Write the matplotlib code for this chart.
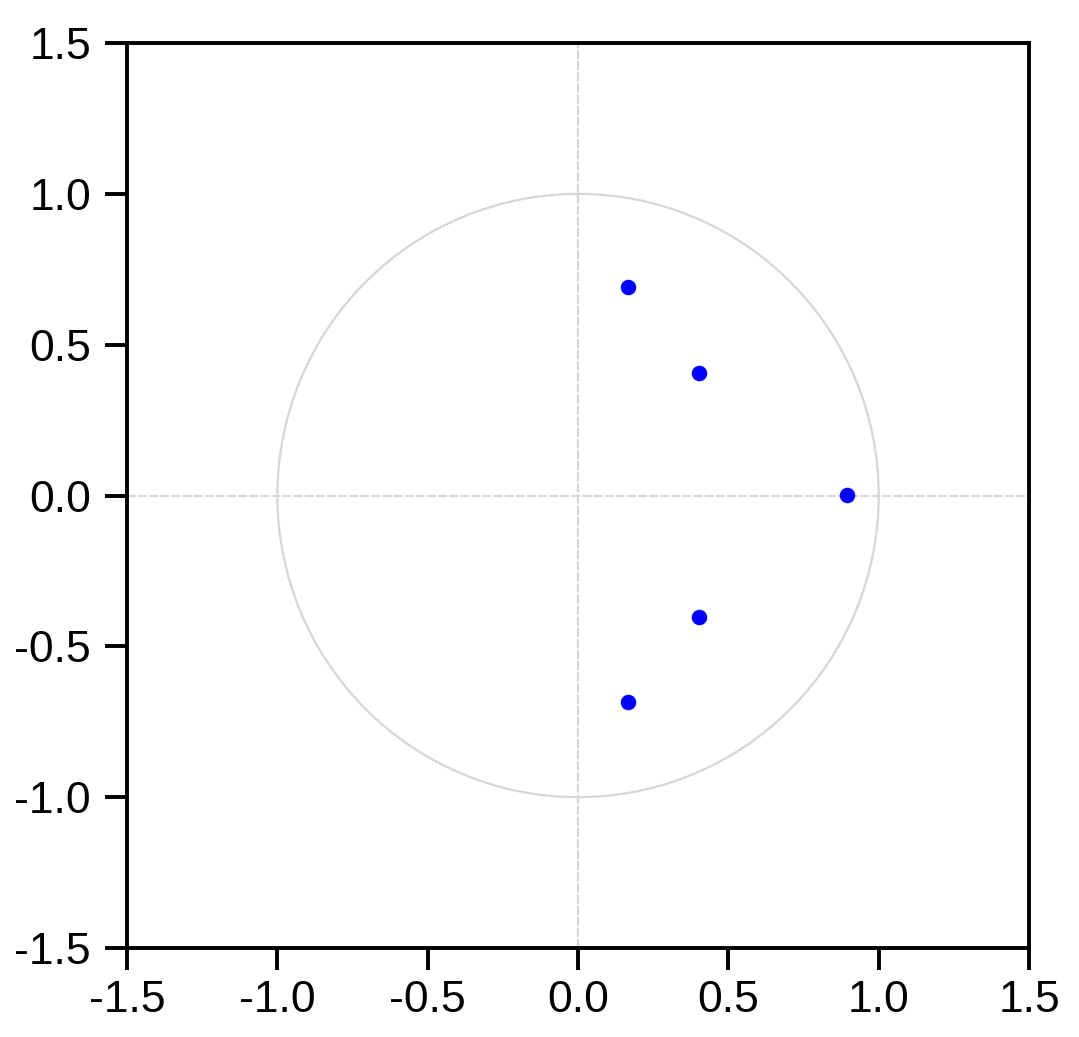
import numpy as np
import matplotlib
matplotlib.use('Agg')
import matplotlib.pyplot as plt
from matplotlib.patches import Circle

# raíces AR (parte real, parte imaginaria)
re_part = [0.166, 0.404, 0.895, 0.404, 0.166]
im_part = [0.690, 0.405, 0.002, -0.403, -0.686]

ticks = [-1.5, -1.0, -0.5, 0.0, 0.5, 1.0, 1.5]
tick_labels = ['-1.5', '-1.0', '-0.5', '0.0', '0.5', '1.0', '1.5']

plt.rcParams['font.family'] = ['Liberation Sans', 'DejaVu Sans']

fig = plt.figure(figsize=(10.79, 10.37), dpi=100)
ax = fig.add_axes([0.1177, 0.0858, 0.836, 0.8727])

# circulo unitario y ejes de referencia
ax.add_patch(Circle((0, 0), 1.0, fill=False, edgecolor='#d6d6d6', linewidth=1.6))
ax.axhline(0, color='#d6d6d6', linewidth=1.6, linestyle=(0, (4, 1)))
ax.axvline(0, color='#d6d6d6', linewidth=1.6, linestyle=(0, (4, 1)))

ax.scatter(re_part, im_part, s=125, color='#0000ff', zorder=3, linewidths=0)

ax.set_xlim(-1.5, 1.5)
ax.set_ylim(-1.5, 1.5)
ax.set_xticks(ticks)
ax.set_xticklabels(tick_labels)
ax.set_yticks(ticks)
ax.set_yticklabels(tick_labels)

for sp in ax.spines.values():
    sp.set_linewidth(2.8)

ax.tick_params(axis='both', direction='out', length=16, width=2.8, labelsize=32)
ax.tick_params(axis='y', pad=10)
ax.tick_params(axis='x', pad=7)

fig.savefig('out.png', dpi=100)
